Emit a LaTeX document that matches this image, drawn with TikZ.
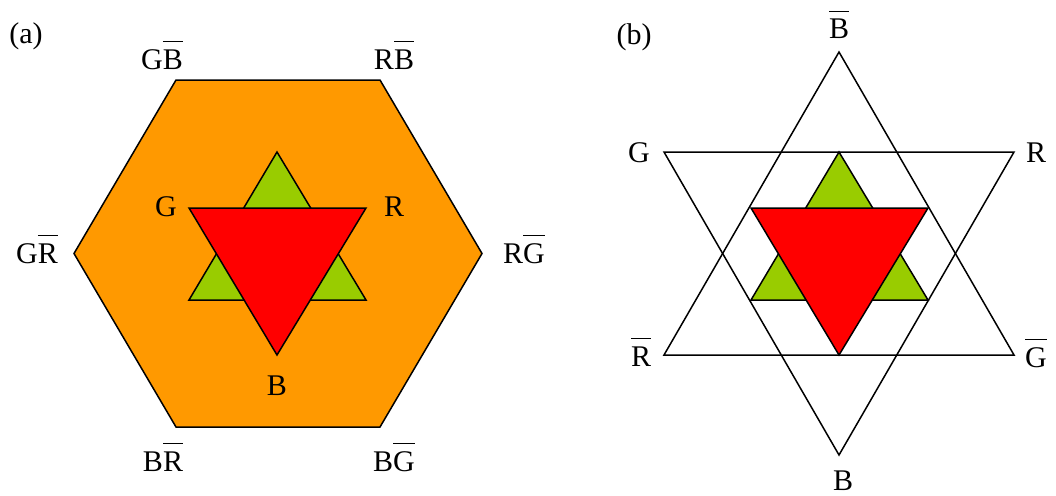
\documentclass[tikz,border=0pt]{standalone}
\usepackage{fontspec}
\setmainfont{Liberation Serif}
\newcommand{\ob}[1]{\leavevmode\vbox{\hrule height 1.5pt\kern 7pt\hbox{#1}}}
\definecolor{hexorange}{RGB}{255,153,0}
\definecolor{trigreen}{RGB}{153,204,0}
\definecolor{trired}{RGB}{255,0,0}
\begin{document}
\begin{tikzpicture}[x=1pt,y=-1pt,
  lbl/.style={anchor=base,inner sep=0pt,font=\fontsize{30}{32}\selectfont},
  figline/.style={draw=black,line width=1.5pt,line join=miter}]
\useasboundingbox (0,0) rectangle (1056,495);
% ---------- panel (a) ----------
\filldraw[figline,fill=hexorange] (176,80) -- (380,80) -- (482,253.5) -- (380,427) -- (176,427) -- (74,253.5) -- cycle;
\filldraw[figline,fill=trigreen] (277,152) -- (366,300) -- (189,300) -- cycle;
\filldraw[figline,fill=trired] (189,208) -- (366,208) -- (277,355) -- cycle;
\node[lbl] (la) at (26,44) {(a)};
\node[lbl] (aGB) at (162,69) {G\ob{B}};
\node[lbl] (aRB) at (394,69) {R\ob{B}};
\node[lbl] (aGR) at (37,263) {G\ob{R}};
\node[lbl] (aRG) at (524,263) {R\ob{G}};
\node[lbl] (aBR) at (163,471) {B\ob{R}};
\node[lbl] (aBG) at (394,471) {B\ob{G}};
\node[lbl] (aG) at (166,216.5) {G};
\node[lbl] (aR) at (394,216) {R};
\node[lbl] (aB) at (277,395) {B};
% ---------- panel (b) ----------
\draw[figline] (839,52) -- (1014,355) -- (664,355) -- cycle;
\draw[figline] (664,152) -- (1014,152) -- (839,455) -- cycle;
\filldraw[figline,fill=trigreen] (839,152) -- (928,300) -- (751,300) -- cycle;
\filldraw[figline,fill=trired] (751,208) -- (928,208) -- (839,355) -- cycle;
\node[lbl] (lb) at (634,45) {(b)};
\node[lbl] (bB) at (839,39) {\ob{B}};
\node[lbl] (bG) at (639,162) {G};
\node[lbl] (bR) at (1036,162) {R};
\node[lbl] (bRb) at (641,366) {\ob{R}};
\node[lbl] (bGb) at (1036,367) {\ob{G}};
\node[lbl] (bBo) at (843,490) {B};
\end{tikzpicture}
\end{document}
